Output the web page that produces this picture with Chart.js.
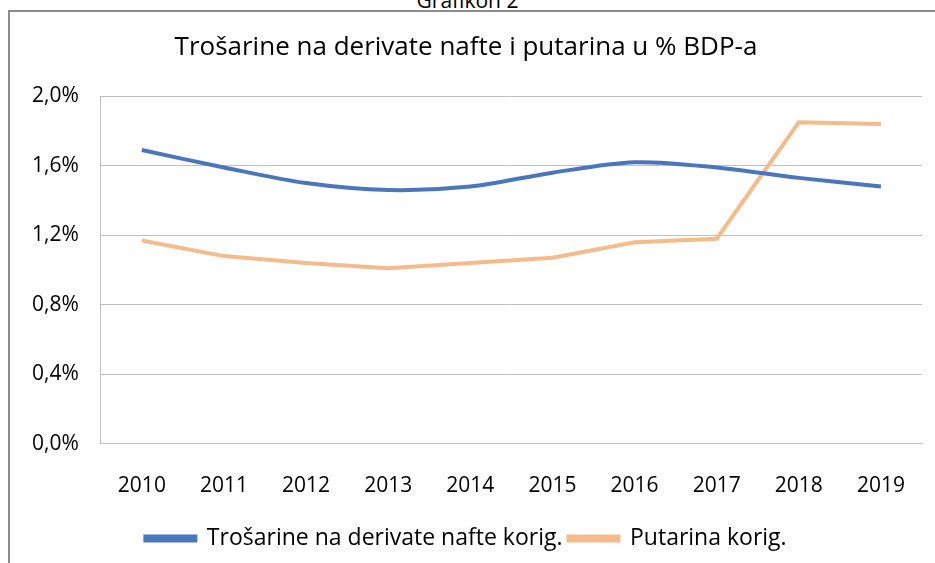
<!DOCTYPE html>
<html>
<head>
<meta charset="utf-8">
<script src="https://cdn.jsdelivr.net/npm/chart.js@4/dist/chart.umd.min.js"></script>
<style>
  html, body { margin: 0; padding: 0; background: #fff; }
  body { width: 935px; height: 563px; position: relative; overflow: hidden; font-family: "Open Sans", sans-serif; }
  #caption { position: absolute; top: -14px; left: 0; width: 935px; text-align: center; font-size: 21px; color: #000; }
  #frame { position: absolute; left: 8px; top: 10px; width: 1000px; height: 600px; border: 2px solid #8c8c8c; box-sizing: border-box; }
  #wrap { position: absolute; left: 10px; top: 12px; width: 925px; height: 548px; }
</style>
</head>
<body>
<div id="caption">Grafikon 2</div>
<div id="frame"></div>
<div id="wrap"><canvas id="lineCanvas"></canvas></div>
<script>
const years = ["2010", "2011", "2012", "2013", "2014", "2015", "2016", "2017", "2018", "2019"];
const trosarine = [1.69, 1.59, 1.50, 1.46, 1.48, 1.56, 1.62, 1.59, 1.53, 1.48];
const putarina = [1.17, 1.08, 1.04, 1.01, 1.04, 1.07, 1.16, 1.18, 1.85, 1.84];

const fontFamily = "'Open Sans', sans-serif";

const data = {
  labels: years,
  datasets: [
    {
      label: "Trošarine na derivate nafte korig.",
      data: trosarine,
      borderColor: "#4a76bd",
      backgroundColor: "#4a76bd",
      borderWidth: 4,
      pointRadius: 0,
      tension: 0.3,
    },
    {
      label: "Putarina korig.",
      data: putarina,
      borderColor: "#f6bb8a",
      backgroundColor: "#f6bb8a",
      borderWidth: 4,
      pointRadius: 0,
      tension: 0,
    },
  ],
};

const config = {
  type: "line",
  data: data,
  options: {
    responsive: true,
    maintainAspectRatio: false,
    animation: false,
    layout: { padding: { left: 0, right: 13, top: 0, bottom: 0 } },
    plugins: {
      title: {
        display: true,
        text: "Trošarine na derivate nafte i putarina u % BDP-a",
        color: "#000",
        font: { family: fontFamily, size: 26, weight: "normal" },
        padding: { top: 20, bottom: 33 },
      },
      legend: {
        position: "bottom",
        labels: {
          color: "#000",
          font: { family: fontFamily, size: 23 },
          boxWidth: 50,
          boxHeight: 4,
          padding: 6,
        },
      },
      tooltip: { enabled: false },
    },
    scales: {
      x: {
        offset: true,
        grid: { display: false },
        border: { color: "#bfbfbf" },
        ticks: {
          color: "#000",
          font: { family: fontFamily, size: 21 },
          padding: 22,
        },
      },
      y: {
        min: 0,
        max: 2,
        grid: { color: "#bfbfbf", drawTicks: false },
        border: { color: "#bfbfbf" },
        ticks: {
          stepSize: 0.4,
          color: "#000",
          font: { family: fontFamily, size: 21 },
          padding: 22,
          callback: (v) => v.toFixed(1).replace(".", ",") + "%",
        },
      },
    },
  },
};

const canvas = document.getElementById("lineCanvas");
if (canvas) {
  new Chart(canvas.getContext("2d"), config);
} else {
  console.error("Canvas not found!");
}
</script>
</body>
</html>
